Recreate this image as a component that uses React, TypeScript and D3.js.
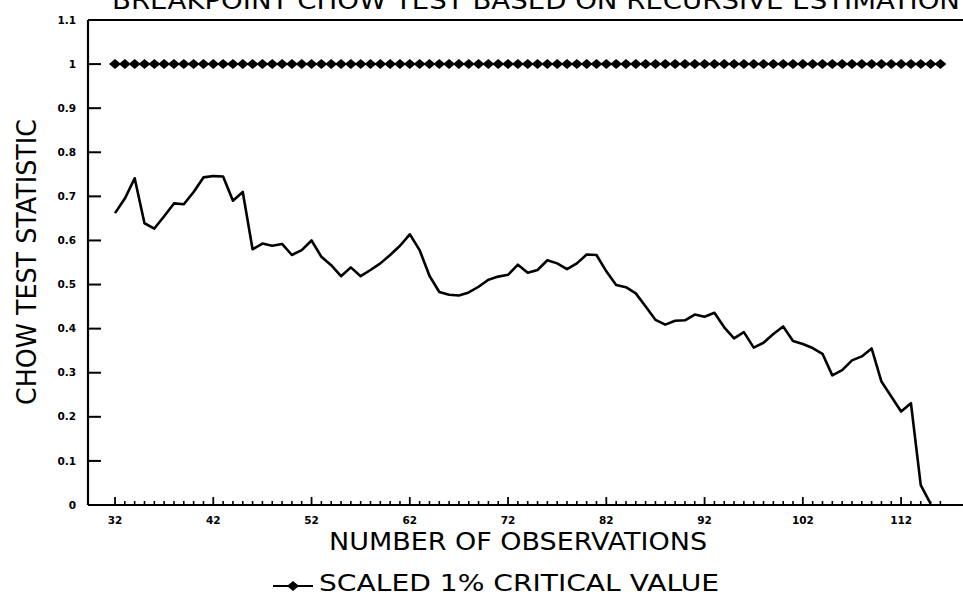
import React from "react";
import * as d3 from "d3";

const TITLE = "BREAKPOINT CHOW TEST BASED ON RECURSIVE ESTIMATION";
const X_LABEL = "NUMBER OF OBSERVATIONS";
const Y_LABEL = "CHOW TEST STATISTIC";
const LEGEND_LABEL = "SCALED 1% CRITICAL VALUE";

const CHOW_OBS = [
  32, 33, 34, 35, 36, 37, 38, 39, 40, 41, 42, 43, 44, 45, 46, 47, 48, 49, 50, 51,
  52, 53, 54, 55, 56, 57, 58, 59, 60, 61, 62, 63, 64, 65, 66, 67, 68, 69, 70, 71,
  72, 73, 74, 75, 76, 77, 78, 79, 80, 81, 82, 83, 84, 85, 86, 87, 88, 89, 90, 91,
  92, 93, 94, 95, 96, 97, 98, 99, 100, 101, 102, 103, 104, 105, 106, 107, 108, 109,
  110, 111, 112, 113, 114, 115,
];
const CHOW_VALUES = [
  0.662, 0.695, 0.741, 0.639, 0.627, 0.655, 0.684, 0.682, 0.71, 0.743, 0.746, 0.745,
  0.69, 0.71, 0.58, 0.593, 0.588, 0.592, 0.567, 0.578, 0.6, 0.563, 0.544, 0.519,
  0.539, 0.519, 0.533, 0.548, 0.567, 0.588, 0.614, 0.578, 0.52, 0.483, 0.477, 0.475,
  0.482, 0.495, 0.511, 0.518, 0.522, 0.545, 0.527, 0.533, 0.555, 0.548, 0.535, 0.548,
  0.568, 0.567, 0.53, 0.499, 0.494, 0.48, 0.45, 0.42, 0.409, 0.418, 0.419, 0.432,
  0.427, 0.436, 0.403, 0.378, 0.392, 0.357, 0.368, 0.388, 0.405, 0.372, 0.365, 0.356,
  0.343, 0.294, 0.306, 0.328, 0.337, 0.355, 0.28, 0.246, 0.212, 0.231, 0.045, 0.003,
];

const CRIT_OBS = [
  32, 33, 34, 35, 36, 37, 38, 39, 40, 41, 42, 43, 44, 45, 46, 47, 48, 49, 50, 51,
  52, 53, 54, 55, 56, 57, 58, 59, 60, 61, 62, 63, 64, 65, 66, 67, 68, 69, 70, 71,
  72, 73, 74, 75, 76, 77, 78, 79, 80, 81, 82, 83, 84, 85, 86, 87, 88, 89, 90, 91,
  92, 93, 94, 95, 96, 97, 98, 99, 100, 101, 102, 103, 104, 105, 106, 107, 108, 109,
  110, 111, 112, 113, 114, 115, 116,
];
const CRIT_VALUES = [
  1, 1, 1, 1, 1, 1, 1, 1, 1, 1, 1, 1, 1, 1, 1, 1, 1, 1, 1, 1,
  1, 1, 1, 1, 1, 1, 1, 1, 1, 1, 1, 1, 1, 1, 1, 1, 1, 1, 1, 1,
  1, 1, 1, 1, 1, 1, 1, 1, 1, 1, 1, 1, 1, 1, 1, 1, 1, 1, 1, 1,
  1, 1, 1, 1, 1, 1, 1, 1, 1, 1, 1, 1, 1, 1, 1, 1, 1, 1, 1, 1,
  1, 1, 1, 1, 1,
];

const X_MAJOR_TICKS = [32, 42, 52, 62, 72, 82, 92, 102, 112];
const X_MINOR_TICKS = [
  33, 34, 35, 36, 37, 38, 39, 40, 41, 43, 44, 45, 46, 47, 48, 49, 50, 51, 53, 54, 55,
  56, 57, 58, 59, 60, 61, 63, 64, 65, 66, 67, 68, 69, 70, 71, 73, 74, 75, 76, 77, 78,
  79, 80, 81, 83, 84, 85, 86, 87, 88, 89, 90, 91, 93, 94, 95, 96, 97, 98, 99, 100,
  101, 103, 104, 105, 106, 107, 108, 109, 110, 111, 113, 114, 115, 116,
];
const Y_TICKS = [0, 0.1, 0.2, 0.3, 0.4, 0.5, 0.6, 0.7, 0.8, 0.9, 1, 1.1];
const Y_TICK_LABELS = ["0", "0.1", "0.2", "0.3", "0.4", "0.5", "0.6", "0.7", "0.8", "0.9", "1", "1.1"];

const W = 963;
const H = 598;
const FONT = "'DejaVu Sans', 'Liberation Sans', sans-serif";

export default function App() {
  const x = d3.scaleLinear().domain([29.25, 118.3]).range([88, 963]);
  const y = d3.scaleLinear().domain([0, 1.1]).range([505, 20]);

  const chowLine = d3
    .line<number>()
    .x((_, i) => x(CHOW_OBS[i]))
    .y((d) => y(d))(CHOW_VALUES) as string;
  const critLine = d3
    .line<number>()
    .x((_, i) => x(CRIT_OBS[i]))
    .y((d) => y(d))(CRIT_VALUES) as string;

  const diamond = (cx: number, cy: number, w = 6, h = 5) =>
    `M${cx - w},${cy}L${cx},${cy - h}L${cx + w},${cy}L${cx},${cy + h}Z`;

  const [x0, x1] = x.range();
  const y0 = y(0);
  const yTop = y(1.1);

  return (
    <svg
      width={W}
      height={H}
      viewBox={`0 0 ${W} ${H}`}
      style={{ position: "absolute", left: 0, top: 0, background: "#fff" }}
    >
      <rect x={0} y={0} width={W} height={H} fill="#fff" />
      {/* title (clipped at top, as in the reference) */}
      <text
        x={112}
        y={9}
        fontFamily={FONT}
        fontSize={25}
        fill="#000"
        textLength={848}
        lengthAdjust="spacingAndGlyphs"
      >
        {TITLE}
      </text>

      {/* frame */}
      <line x1={x0} x2={x1} y1={yTop} y2={yTop} stroke="#000" strokeWidth={2} />
      <line x1={x0} x2={x0} y1={yTop} y2={y0} stroke="#000" strokeWidth={2.2} />
      <line x1={x0} x2={x1} y1={y0} y2={y0} stroke="#000" strokeWidth={2.2} />

      {/* y ticks */}
      {Y_TICKS.map((t, i) => (
        <g key={`yt${i}`}>
          {t < 1.05 && (
            <line x1={x0} x2={x0 + 13} y1={y(t)} y2={y(t)} stroke="#000" strokeWidth={2} />
          )}
          <text
            x={76}
            y={y(t)}
            dy="0.35em"
            textAnchor="end"
            fontFamily={FONT}
            fontWeight="bold"
            fontSize={10.5}
            fill="#000"
          >
            {Y_TICK_LABELS[i]}
          </text>
        </g>
      ))}

      {/* x ticks */}
      {X_MINOR_TICKS.map((t) => (
        <line key={`xm${t}`} x1={x(t)} x2={x(t)} y1={y0} y2={y0 - 4} stroke="#000" strokeWidth={1.6} />
      ))}
      {X_MAJOR_TICKS.map((t) => (
        <g key={`xM${t}`}>
          <line x1={x(t)} x2={x(t)} y1={y0} y2={y0 - 8} stroke="#000" strokeWidth={1.8} />
          <text
            x={x(t)}
            y={524}
            textAnchor="middle"
            fontFamily={FONT}
            fontWeight="bold"
            fontSize={10.5}
            fill="#000"
          >
            {t}
          </text>
        </g>
      ))}

      {/* critical value series */}
      <path d={critLine} fill="none" stroke="#000" strokeWidth={2} />
      {CRIT_VALUES.map((v, i) => (
        <path key={`d${i}`} d={diamond(x(CRIT_OBS[i]), y(v))} fill="#000" />
      ))}

      {/* chow statistic */}
      <path d={chowLine} fill="none" stroke="#000" strokeWidth={2.6} strokeLinejoin="round" />

      {/* axis labels */}
      <text
        x={518}
        y={550}
        textAnchor="middle"
        fontFamily={FONT}
        fontSize={24}
        fill="#000"
        textLength={378}
        lengthAdjust="spacingAndGlyphs"
      >
        {X_LABEL}
      </text>
      <text
        transform="translate(36,262) rotate(-90)"
        textAnchor="middle"
        fontFamily={FONT}
        fontSize={26}
        fill="#000"
        textLength={286}
        lengthAdjust="spacingAndGlyphs"
      >
        {Y_LABEL}
      </text>

      {/* legend */}
      <line x1={273} x2={313} y1={586} y2={586} stroke="#000" strokeWidth={2} />
      <path d={diamond(293, 586)} fill="#000" />
      <text
        x={319}
        y={591}
        fontFamily={FONT}
        fontSize={23}
        fill="#000"
        textLength={400}
        lengthAdjust="spacingAndGlyphs"
      >
        {LEGEND_LABEL}
      </text>
    </svg>
  );
}
